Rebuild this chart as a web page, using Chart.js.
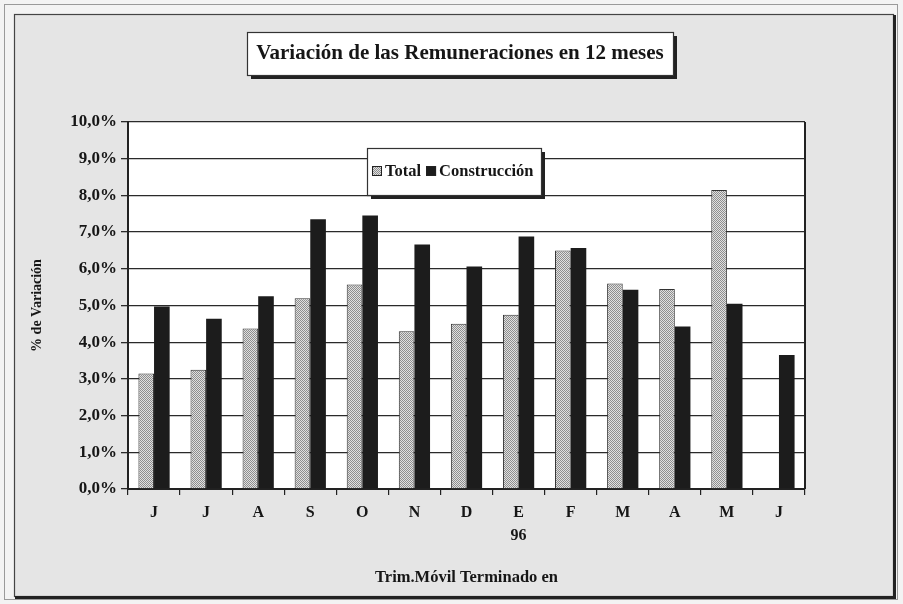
<!DOCTYPE html>
<html lang="es">
<head>
<meta charset="UTF-8" />
<title>Variación de las Remuneraciones en 12 meses</title>
<script src="https://cdn.jsdelivr.net/npm/chart.js"></script>
<style>
  html, body { margin: 0; padding: 0; background: #f3f3f3; }
  #wrap { width: 903px; height: 604px; }
</style>
</head>
<body>
<div id="wrap"><canvas id="chart" width="903" height="604"></canvas></div>
<script>
// data
const meses = ['J', 'J', 'A', 'S', 'O', 'N', 'D', ['E', '96'], 'F', 'M', 'A', 'M', 'J'];
const total = [3.15, 3.25, 4.37, 5.2, 5.57, 4.3, 4.5, 4.75, 6.5, 5.6, 5.45, 8.15, null];
const construccion = [4.97, 4.64, 5.25, 7.35, 7.45, 6.66, 6.06, 6.88, 6.57, 5.43, 4.43, 5.05, 3.65];
const yTicks = [0, 1, 2, 3, 4, 5, 6, 7, 8, 9, 10];

const titulo = 'Variación de las Remuneraciones en 12 meses';
const ejeY = '% de Variación';
const ejeX = 'Trim.Móvil Terminado en';

const serif = '"Liberation Serif", "Times New Roman", serif';
const ink = '#161616';

// dotted gray fill like the scanned "Total" bars
function dotPattern() {
  const c = document.createElement('canvas');
  c.width = 2; c.height = 2;
  const g = c.getContext('2d');
  g.fillStyle = '#e0e0e0';
  g.fillRect(0, 0, 2, 2);
  g.fillStyle = '#8e8e8e';
  g.fillRect(0, 0, 1, 1);
  g.fillRect(1, 1, 1, 1);
  return g.createPattern(c, 'repeat');
}
const dots = dotPattern();

function shadowBox(ctx, x, y, w, h) {
  ctx.fillStyle = '#222';
  ctx.fillRect(x + 4, y + 4, w, h);
  ctx.fillStyle = '#fff';
  ctx.fillRect(x, y, w, h);
  ctx.strokeStyle = '#333';
  ctx.lineWidth = 1.2;
  ctx.strokeRect(x + 0.5, y + 0.5, w, h);
}

const decor = {
  id: 'decor',
  beforeDraw(chart) {
    const ctx = chart.ctx;
    const a = chart.chartArea;
    ctx.save();
    ctx.fillStyle = '#f3f3f3';
    ctx.fillRect(0, 0, chart.width, chart.height);
    // outer thin frame
    ctx.strokeStyle = '#9a9a9a';
    ctx.lineWidth = 1;
    ctx.strokeRect(4.5, 4.5, 893, 595);
    // inner frame
    ctx.fillStyle = '#e5e5e5';
    ctx.fillRect(14, 14, 880, 583);
    ctx.strokeStyle = '#444';
    ctx.lineWidth = 1.2;
    ctx.strokeRect(14.5, 14.5, 879, 582);
    ctx.fillStyle = '#222';
    ctx.fillRect(893, 15, 3, 584);
    ctx.fillRect(15, 596, 881, 3);
    // white plot area
    ctx.fillStyle = '#fff';
    ctx.fillRect(a.left, a.top, a.right - a.left, a.bottom - a.top);
    ctx.restore();
  },
  afterDraw(chart) {
    const ctx = chart.ctx;
    const a = chart.chartArea;
    ctx.save();
    // right border of plot
    ctx.strokeStyle = '#222';
    ctx.lineWidth = 2;
    ctx.beginPath();
    ctx.moveTo(a.right, a.top);
    ctx.lineTo(a.right, a.bottom);
    ctx.stroke();

    // title box
    shadowBox(ctx, 247, 32, 426, 43);
    ctx.fillStyle = ink;
    ctx.font = 'bold 21px ' + serif;
    ctx.textAlign = 'center';
    ctx.textBaseline = 'middle';
    ctx.fillText(titulo, 460, 54);

    // legend box
    shadowBox(ctx, 367, 148, 174, 47);
    ctx.font = 'bold 16.5px ' + serif;
    ctx.textAlign = 'left';
    let x = 372;
    chart.data.datasets.forEach(ds => {
      ctx.fillStyle = ds.backgroundColor;
      ctx.fillRect(x, 166, 10, 10);
      ctx.strokeStyle = '#222';
      ctx.lineWidth = 1;
      ctx.strokeRect(x + 0.5, 166.5, 9, 9);
      ctx.fillStyle = ink;
      ctx.fillText(ds.label, x + 13, 172);
      x += 13 + ctx.measureText(ds.label).width + 5;
    });
    ctx.restore();
  }
};

new Chart(document.getElementById('chart'), {
  type: 'bar',
  data: {
    labels: meses,
    datasets: [
      { label: 'Total', data: total, backgroundColor: dots, borderColor: '#333', borderWidth: 1 },
      { label: 'Construcción', data: construccion, backgroundColor: '#1c1c1c', borderColor: '#1c1c1c', borderWidth: 0 }
    ]
  },
  options: {
    responsive: false,
    animation: false,
    layout: { padding: { top: 122, right: 98, left: 0, bottom: 0 } },
    datasets: { bar: { categoryPercentage: 0.6, barPercentage: 1.0 } },
    plugins: { legend: { display: false }, title: { display: false }, tooltip: { enabled: false } },
    scales: {
      x: {
        afterFit: s => { s.height = 115; },
        grid: { display: true, drawOnChartArea: false, drawTicks: true, tickLength: 6, color: '#222', lineWidth: 1.2, offset: true },
        border: { display: true, color: '#222', width: 2 },
        ticks: { color: ink, font: { family: serif, size: 16, weight: 'bold', lineHeight: 1.45 }, padding: 6, maxRotation: 0 },
        title: { display: true, text: ejeX, color: ink, font: { family: serif, size: 16.5, weight: 'bold' }, padding: { top: 0, bottom: 16 } }
      },
      y: {
        min: 0, max: 10,
        afterFit: s => { s.width = 128; },
        afterBuildTicks: s => { s.ticks = yTicks.map(v => ({ value: v })); },
        grid: { color: '#2a2a2a', lineWidth: 1.3, tickLength: 7 },
        border: { display: true, color: '#222', width: 2 },
        ticks: {
          color: ink, padding: 4,
          font: { family: serif, size: 17, weight: 'bold' },
          callback: v => v.toFixed(1).replace('.', ',') + '%'
        },
        title: { display: true, text: ejeY, color: ink, font: { family: serif, size: 14, weight: 'bold' }, padding: { top: 29, bottom: 0 } }
      }
    }
  },
  plugins: [decor]
});
</script>
</body>
</html>
